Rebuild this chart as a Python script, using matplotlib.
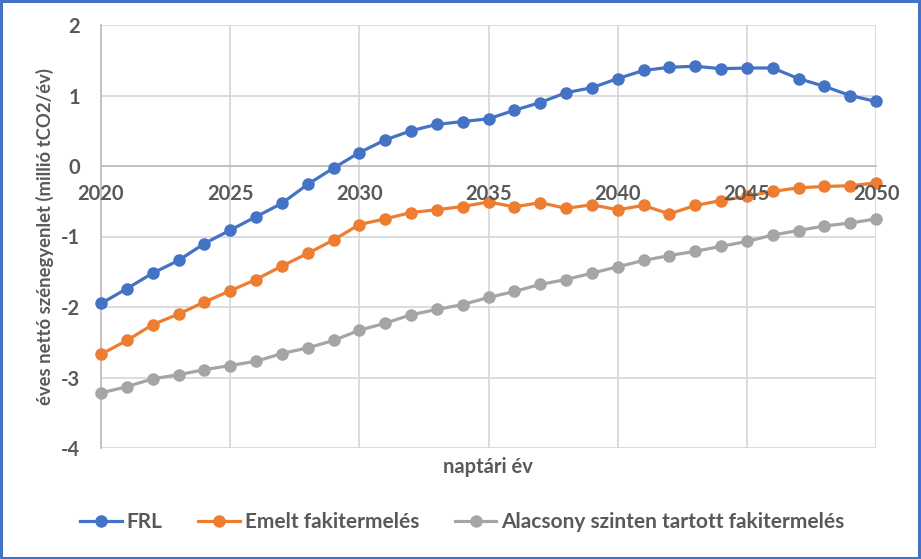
import matplotlib
matplotlib.use("Agg")
import matplotlib.pyplot as plt
from matplotlib.patches import Rectangle

years = list(range(2020, 2051))
frl = [-1.95, -1.74, -1.52, -1.34, -1.10, -0.91, -0.72, -0.53, -0.26, -0.03,
       0.19, 0.37, 0.50, 0.59, 0.63, 0.67, 0.79, 0.90, 1.04, 1.11,
       1.24, 1.355, 1.40, 1.415, 1.38, 1.39, 1.39, 1.24, 1.13, 1.00, 0.915]
emelt = [-2.67, -2.475, -2.25, -2.10, -1.93, -1.77, -1.61, -1.42, -1.24, -1.05,
         -0.83, -0.75, -0.66, -0.62, -0.575, -0.51, -0.58, -0.52, -0.60, -0.55,
         -0.62, -0.56, -0.68, -0.56, -0.49, -0.43, -0.36, -0.31, -0.29, -0.28, -0.24]
alacsony = [-3.22, -3.13, -3.02, -2.96, -2.89, -2.83, -2.77, -2.66, -2.58, -2.475,
            -2.33, -2.23, -2.11, -2.035, -1.965, -1.865, -1.78, -1.68, -1.61, -1.52,
            -1.43, -1.34, -1.27, -1.21, -1.14, -1.07, -0.98, -0.915, -0.85, -0.81, -0.75]
series_names = ["FRL", "Emelt fakitermelés", "Alacsony szinten tartott fakitermelés"]
colors = ["#4472C4", "#ED7D31", "#A5A5A5"]
x_ticks = [2020, 2025, 2030, 2035, 2040, 2045, 2050]
y_ticks = [-4, -3, -2, -1, 0, 1, 2]
x_label = "naptári év"
y_label = "éves nettó szénegyenlet (millió tCO2/év)"

plt.rcParams['font.family'] = ['Lato', 'DejaVu Sans']
plt.rcParams['axes.unicode_minus'] = False
text_color = "#595959"

fig = plt.figure(figsize=(9.21, 5.59), dpi=100)
ax = fig.add_axes([101/921, 1 - 448/559, 775/921, 423/559])

for vals, name, c in zip([frl, emelt, alacsony], series_names, colors):
    ax.plot(years, vals, color=c, lw=2.3, marker='o', markersize=8,
            label=name, zorder=3, clip_on=False)

ax.set_xlim(2020, 2050)
ax.set_ylim(-4, 2)
ax.set_xticks(x_ticks)
ax.set_xticklabels([])
ax.set_yticks(y_ticks)
ax.grid(True, color="#D9D9D9", lw=1.3)
ax.set_axisbelow(True)
for s in ['top', 'right']:
    ax.spines[s].set_visible(False)
ax.spines['bottom'].set_position(('data', 0))
ax.spines['bottom'].set_color("#BFBFBF")
ax.spines['bottom'].set_linewidth(1.3)
ax.spines['left'].set_color("#BFBFBF")
ax.spines['left'].set_linewidth(1.3)
ax.tick_params(length=0, labelsize=14.5, labelcolor=text_color)
ax.tick_params(axis='y', pad=15)
for lab in ax.get_yticklabels():
    lab.set_fontweight('bold')

# x tick labels drawn above the data markers, as in the reference
for xt in x_ticks:
    ax.text(xt, -0.40, str(xt), ha='center', va='center', fontsize=14.5,
            fontweight='bold', color=text_color, zorder=10, clip_on=False)

fig.text(488/921, 1 - 467/559, x_label, ha='center', va='center',
         fontsize=14.5, fontweight='bold', color=text_color)
fig.text(45/921, 1 - 237/559, y_label, ha='center', va='center', rotation=90,
         fontsize=13.3, fontweight='bold', color=text_color)

leg = fig.legend(loc='center', bbox_to_anchor=(0.502, 1 - 522/559), ncol=3,
                 frameon=False, fontsize=15, handlelength=2.0,
                 columnspacing=1.7, handletextpad=0.25)
for t in leg.get_texts():
    t.set_color(text_color)
    t.set_fontweight('bold')

fig.patches.append(Rectangle((0.001, 0.002), 0.997, 0.996, transform=fig.transFigure,
                             fill=False, edgecolor="#4472C4", lw=2.2))

fig.savefig("out.png", dpi=100, facecolor='white')
